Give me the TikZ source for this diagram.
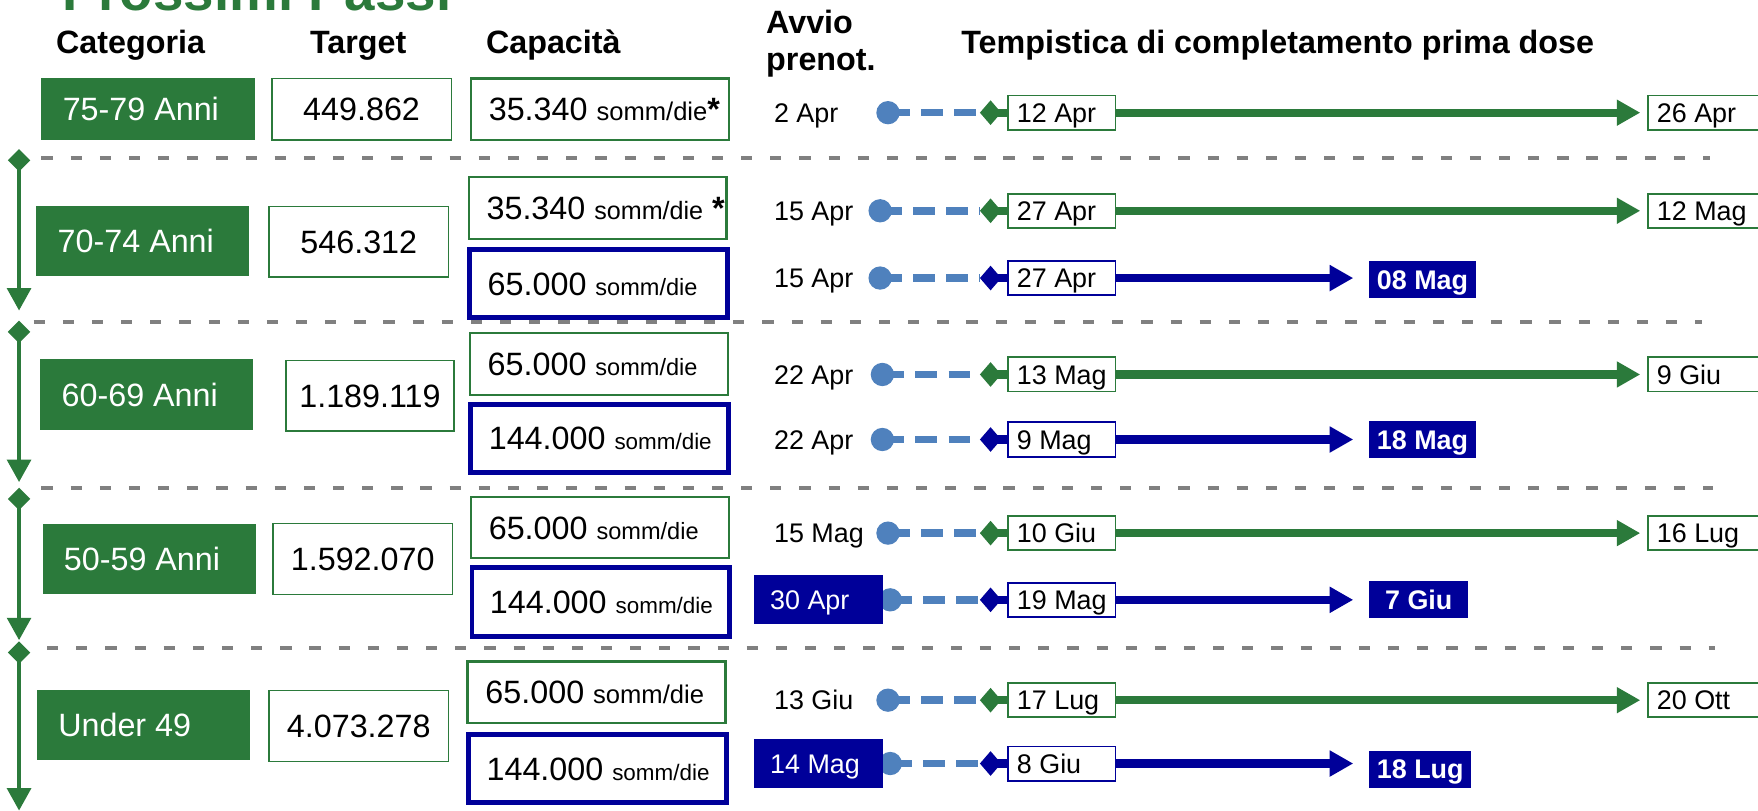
\documentclass[tikz,border=0pt]{standalone}
\usepackage{fontspec}
\setmainfont{Liberation Sans}
\usetikzlibrary{arrows.meta}

\definecolor{vgreen}{RGB}{43,122,59}
\definecolor{vblue}{RGB}{0,0,153}
\definecolor{vdot}{RGB}{79,129,189}
\definecolor{vgray}{RGB}{128,128,128}

\newcommand{\fbig}{\fontsize{14.4}{17}\selectfont}
\newcommand{\fdate}{\fontsize{12}{14}\selectfont}
\newcommand{\sd}[1][10.5]{{\fontsize{#1}{12}\selectfont somm/die}}
\newcommand{\lbox}[2]{\hbox to #1{#2\hss}}

\tikzset{
	cat/.style={fill=vgreen, text=white, font=\fbig, inner xsep=9.5pt, minimum height=31.5pt, text height=10.3pt, text depth=0pt},
	tgt/.style={draw=vgreen, line width=0.6pt, font=\fbig, minimum width=80pt, minimum height=31.5pt, text height=10.3pt, text depth=0pt},
	capg/.style={draw=vgreen, line width=1pt, font=\fbig, inner xsep=8pt, minimum height=27.5pt, text height=10.3pt, text depth=0pt},
	capb/.style={capg, draw=vblue, line width=2.2pt, minimum height=30.5pt},
	dateg/.style={draw=vgreen, fill=white, line width=0.8pt, font=\fdate, inner xsep=4pt, minimum height=14.5pt, text height=8.6pt, text depth=0pt},
	dateb/.style={dateg, draw=vblue},
	endg/.style={dateg, anchor=west},
	endb/.style={fill=vblue, text=white, font=\fdate\bfseries, anchor=west, minimum width=44pt, minimum height=16.5pt, text height=8.6pt, text depth=0pt},
	avbase/.style={font=\fdate, anchor=west, inner xsep=7pt, minimum height=21.75pt, text height=8.6pt, text depth=0pt},
	avtxt/.style={avbase, xshift=1.75pt},
	avbox/.style={avbase, fill=vblue, text=white},
	dot/.style={circle, fill=vdot, minimum size=10.4pt, inner sep=0pt},
	dashl/.style={vdot, line width=3.4pt, dash pattern=on 9.75pt off 5pt},
	gline/.style={vgreen, line width=3.6pt, {Diamond[length=9.5pt,width=11pt]}-{Triangle[length=10.5pt,width=11pt]}, shorten >=3pt},
	bline/.style={gline, vblue, shorten >=7pt},
	vline/.style={vgreen, line width=1.9pt, {Diamond[length=10pt,width=10pt]}-{Triangle[length=10pt,width=10.5pt]}},
	sep/.style={vgray, line width=1.8pt, dash pattern=on 5pt off 8pt},
	head/.style={font=\fbig\bfseries, anchor=base}
}

\begin{document}
\begin{tikzpicture}[x=0.5pt,y=-0.5pt]
	\useasboundingbox (0,0) rectangle (1568,723);

	% title and column heads
	\node[font=\fontsize{24.4}{28}\selectfont\bfseries, text=vgreen, anchor=base west, inner sep=0pt] (title) at (55,9) {Prossimi Passi};
	\node[head] (hcat) at (116.5,48) {Categoria};
	\node[head] (htgt) at (319.5,48) {Target};
	\node[head] (hcap) at (493.5,48) {Capacità};
	\node[head, anchor=base west, inner sep=0pt] (hav1) at (683,30) {Avvio};
	\node[head, anchor=base west, inner sep=0pt] (hav2) at (683,63) {prenot.};
	\node[head, anchor=base west, inner sep=0pt] (htime) at (857,48) {Tempistica di completamento prima dose};

	% separators
	\draw[sep] (37,141) -- (1525,141);
	\draw[sep] (30,287) -- (1518,287);
	\draw[sep] (37,435) -- (1528,435);
	\draw[sep] (42,578) -- (1530,578);

	% left arrows
	\coordinate (v1a) at (17,133);  \coordinate (v1b) at (17,277);
	\coordinate (v2a) at (17,286);  \coordinate (v2b) at (17,430);
	\coordinate (v3a) at (17,435);  \coordinate (v3b) at (17,571);
	\coordinate (v4a) at (17,572);  \coordinate (v4b) at (17,723);
	\foreach \i in {1,...,4}
		\draw[vline] (v\i a) -- (v\i b);

	% categories
	\node[cat, minimum height=27.5pt] (cat1) at (132,97.5) {\lbox{76pt}{75-79 Anni}};
	\node[cat] (cat2) at (127.5,215) {\lbox{76pt}{70-74 Anni}};
	\node[cat] (cat3) at (131,352) {\lbox{76pt}{60-69 Anni}};
	\node[cat] (cat4) at (133,498.5) {\lbox{76pt}{50-59 Anni}};
	\node[cat] (cat5) at (128,646.5) {\lbox{76pt}{Under 49}};

	% targets
	\node[tgt, minimum height=27.5pt] (tgt1) at (322.5,97.5) {449.862};
	\node[tgt] (tgt2) at (320,215.5) {546.312};
	\node[tgt, minimum width=75pt] (tgt3) at (330,353) {1.189.119};
	\node[tgt] (tgt4) at (323.5,498.5) {1.592.070};
	\node[tgt] (tgt5) at (320,647.5) {4.073.278};

	% capacity
	\node[capg] (cap1) at (535,97.5) {\lbox{99pt}{35.340 \sd[11.4]{\bfseries*}}};
	\node[capg] (cap2g) at (533,185.5) {\lbox{99pt}{35.340 \sd[11.2] {\bfseries*}}};
	\node[capb] (cap2b) at (534,253) {\lbox{99pt}{65.000 \sd}};
	\node[capg] (cap3g) at (534,324.5) {\lbox{99pt}{65.000 \sd}};
	\node[capb] (cap3b) at (535,391) {\lbox{99pt}{144.000 \sd[10]}};
	\node[capg] (cap4g) at (535,470.5) {\lbox{99pt}{65.000 \sd}};
	\node[capb] (cap4b) at (536,537) {\lbox{99pt}{144.000 \sd[10]}};
	\node[capg] (cap5g) at (532,617.5) {\lbox{99pt}{65.000 \sd[11.4]}};
	\node[capb] (cap5b) at (533,685.5) {\lbox{99pt}{144.000 \sd[10]}};

	% timelines at current capacity
	\foreach \y/\dx/\av/\da/\db [count=\i] in {100.5/792/2 Apr/12 Apr/26 Apr, 188/785/15 Apr/27 Apr/12 Mag, 334/787/22 Apr/13 Mag/9 Giu, 475.5/792/15 Mag/10 Giu/16 Lug, 624.5/792/13 Giu/17 Lug/20 Ott}{
		\node[endg] (eg\i) at (1469,\y) {\lbox{42pt}{\db}};
		\coordinate (kg\i) at (874,\y);
		\draw[gline] (kg\i) -- (eg\i);
		\node[dateg] (sg\i) at (947,\y) {\lbox{40pt}{\da}};
		\node[dot] (pg\i) at (\dx,\y) {};
		\draw[dashl] (pg\i.center) -- (kg\i);
		\node[avtxt] (ag\i) at (672.5,\y) {\lbox{43.5pt}{\av}};
	}

	% timelines at higher capacity
	\foreach \y/\dx/\as/\av/\da/\db/\ey [count=\i] in {248/785/avtxt/15 Apr/27 Apr/08 Mag/249.5, 392/787/avtxt/22 Apr/9 Mag/18 Mag/392, 535/794/avbox/30 Apr/19 Mag/7 Giu/535, 681/794/avbox/14 Mag/8 Giu/18 Lug/686}{
		\node[endb] (eb\i) at (1221,\ey) {\db};
		\coordinate (kb\i) at (874,\y);
		\coordinate (tb\i) at (1221,\y);
		\draw[bline] (kb\i) -- (tb\i);
		\node[dateb] (sb\i) at (947,\y) {\lbox{40pt}{\da}};
		\node[dot] (pb\i) at (\dx,\y) {};
		\draw[dashl] (pb\i.center) -- (kb\i);
		\node[\as] (ab\i) at (672.5,\y) {\lbox{43.5pt}{\av}};
	}
\end{tikzpicture}
\end{document}
